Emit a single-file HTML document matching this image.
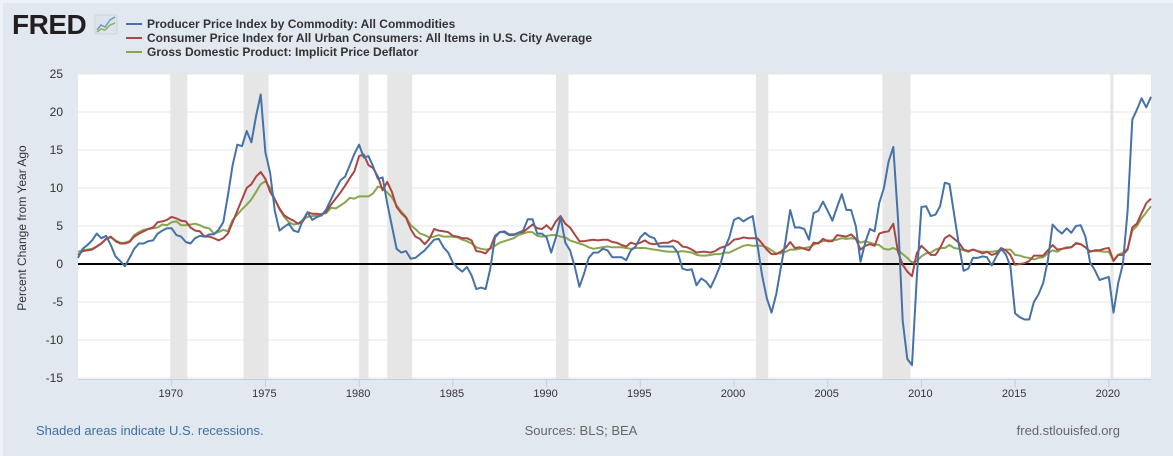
<!DOCTYPE html>
<html><head><meta charset="utf-8">
<style>
body{margin:0;width:1173px;height:456px;overflow:hidden;background:#e1e8f0;font-family:"Liberation Sans",sans-serif;}
svg{display:block}
</style></head>
<body>
<svg id="chart" width="1173" height="456" xmlns="http://www.w3.org/2000/svg">
  <rect x="0" y="0" width="1173" height="456" fill="#e1e8f0"/>
  <rect x="0" y="0" width="1173" height="3" fill="#edf2f7"/>
  <rect x="0" y="0" width="3" height="456" fill="#edf2f7"/>
  <g>
    <text x="12" y="34" font-size="28" font-weight="bold" fill="#231f20" font-family="Liberation Sans, sans-serif" letter-spacing="-0.5">FRED</text>
    <rect x="95" y="15" width="22" height="19" fill="#dde3ea" stroke="#cfd6de"/>
    <polyline points="97,30 101,25 105,27 110,20 115,17" fill="none" stroke="#6f9bc4" stroke-width="1.5"/>
    <polyline points="97,32 101,29 105,30 110,25 115,23" fill="none" stroke="#8fb35a" stroke-width="1.5"/>
  </g>
  <g font-size="12" font-weight="bold" fill="#333">
    <g><line x1="126" y1="24" x2="142" y2="24" stroke="#4572a7" stroke-width="2"/><text x="147" y="28">Producer Price Index by Commodity: All Commodities</text></g>
    <g><line x1="126" y1="38" x2="142" y2="38" stroke="#aa4643" stroke-width="2"/><text x="147" y="42">Consumer Price Index for All Urban Consumers: All Items in U.S. City Average</text></g>
    <g><line x1="126" y1="52" x2="142" y2="52" stroke="#89a54e" stroke-width="2"/><text x="147" y="56">Gross Domestic Product: Implicit Price Deflator</text></g>
  </g>
  <rect x="78" y="74" width="1073" height="305" fill="#ffffff"/>
  <g id="recessions"></g>
  <g id="grid"></g>
  <g id="yaxis"></g>
  <g id="xaxis"></g>
  <g id="series"></g>
  <text x="26" y="228" transform="rotate(-90 26 228)" text-anchor="middle" font-size="12" fill="#333">Percent Change from Year Ago</text>
  <text x="36" y="435" font-size="13" fill="#3d6fa8">Shaded areas indicate U.S. recessions.</text>
  <text x="581" y="435" font-size="13" fill="#666" text-anchor="middle">Sources: BLS; BEA</text>
  <text x="1120" y="435" font-size="13" fill="#666" text-anchor="end">fred.stlouisfed.org</text>
</svg>
<script>
const startYear = 1965;
const ppi = [
0.8,2.0,2.5,3.1, 4.0,3.4,3.7,2.5, 1.0,0.4,-0.3,0.8, 2.0,2.7,2.7,3.0, 3.1,4.0,4.4,4.7,
4.7,3.8,3.6,2.9, 2.7,3.4,3.7,3.6, 3.9,3.9,4.5,5.5, 9.0,13.0,15.7,15.5, 17.5,16.0,19.5,22.3,
14.7,12.0,7.0,4.4, 4.9,5.3,4.4,4.2, 5.8,6.8,5.8,6.2, 6.4,7.2,8.5,9.8, 11.0,11.5,13.0,14.5,
15.7,14.0,14.2,12.8, 11.2,11.4,8.0,5.0, 2.0,1.5,1.7,0.7, 0.8,1.3,1.8,2.5, 3.2,3.3,2.2,1.5,
0.2,-0.5,-1.0,-0.4, -1.5,-3.3,-3.1,-3.3, -0.6,3.5,4.2,4.2, 3.8,3.8,4.1,4.4, 5.9,5.9,4.0,4.0,
3.5,1.5,3.5,6.2, 2.8,1.8,-0.3,-3.0, -1.3,0.8,1.5,1.5, 2.0,1.8,0.9,0.9, 0.9,0.5,1.8,2.3,
3.5,4.1,3.6,3.4, 2.3,2.3,2.3,2.3, 1.5,-0.6,-0.8,-0.7, -2.8,-1.9,-2.3,-3.1, -1.8,-0.3,2.0,3.5,
5.8,6.1,5.6,6.0, 6.3,2.5,-1.5,-4.5, -6.4,-4.0,-0.5,3.0, 7.1,4.8,4.8,4.6, 3.2,6.7,7.0,8.2,
7.0,5.7,7.5,9.2, 7.1,7.1,5.0,0.3, 2.8,4.6,4.3,8.0, 10.0,13.5,15.4,6.0, -7.5,-12.5,-13.3,-2.0,
7.5,7.6,6.3,6.5, 7.6,10.7,10.5,6.5, 2.5,-0.9,-0.6,0.8, 0.8,1.0,0.9,-0.2, 1.0,2.0,1.3,-0.3,
-6.5,-7.0,-7.3,-7.3, -5.0,-4.0,-2.5,0.5, 5.2,4.5,4.0,4.7, 4.1,5.0,5.1,3.6, 0.2,-0.8,-2.1,-1.9,
-1.7,-6.4,-2.5,0.0, 7.0,19.0,20.3,21.8, 20.6,22.0];
const cpi = [
1.2,1.7,1.8,1.9, 2.3,2.7,3.3,3.6, 3.0,2.7,2.7,2.9, 3.6,4.0,4.3,4.6, 4.8,5.5,5.6,5.8,
6.2,6.0,5.7,5.6, 4.8,4.4,4.3,3.6, 3.6,3.4,3.1,3.4, 4.0,5.5,7.0,8.5, 10.0,10.5,11.5,12.1,
11.2,9.5,8.5,7.3, 6.4,6.0,5.7,5.3, 5.6,6.8,6.6,6.6, 6.5,6.9,7.8,8.6, 9.4,10.3,11.3,12.2,
14.2,14.4,13.0,12.6, 11.5,9.7,10.8,9.5, 7.5,6.7,6.1,4.6, 3.6,3.3,2.6,3.3, 4.6,4.4,4.3,4.2,
3.7,3.6,3.4,3.4, 3.1,1.7,1.6,1.4, 2.1,3.7,4.2,4.3, 3.9,3.9,4.1,4.2, 4.7,5.2,4.7,4.6,
5.1,4.5,5.6,6.3, 5.3,4.8,3.9,3.0, 3.0,3.1,3.2,3.1, 3.2,3.2,2.9,2.8, 2.5,2.3,2.8,2.6,
2.8,3.1,2.7,2.6, 2.7,2.8,2.8,3.1, 2.9,2.3,2.2,1.9, 1.5,1.6,1.6,1.5, 1.7,2.1,2.3,2.6,
3.2,3.3,3.5,3.4, 3.4,3.4,2.7,1.9, 1.3,1.3,1.6,2.1, 2.9,2.1,2.2,2.0, 1.8,2.8,2.7,3.3,
3.0,3.0,3.8,3.7, 3.6,3.9,3.3,1.9, 2.4,2.6,2.4,4.0, 4.2,4.3,5.3,1.6, -0.1,-1.0,-1.6,1.4,
2.4,1.8,1.2,1.2, 2.1,3.4,3.8,3.3, 2.8,1.9,1.7,1.9, 1.7,1.4,1.6,1.2, 1.4,2.1,1.8,1.2,
-0.1,0.0,0.1,0.4, 1.1,1.1,1.1,1.8, 2.5,1.9,2.0,2.1, 2.2,2.7,2.6,2.2, 1.6,1.8,1.8,2.0,
2.1,0.4,1.2,1.2, 1.9,4.8,5.3,6.7, 8.0,8.6];
const gdpDeflator = [
1.6,1.8,1.9,2.0, 2.3,2.7,3.3,3.5, 3.1,2.8,2.8,3.0, 3.8,4.2,4.5,4.6, 4.7,4.8,5.2,5.1,
5.5,5.6,5.1,5.1, 5.2,5.3,5.1,4.8, 4.7,4.0,4.2,4.5, 4.3,5.8,6.5,7.2, 7.8,8.5,9.5,10.5,
10.9,10.0,8.5,7.2, 6.2,5.5,5.2,5.3, 5.8,6.2,6.3,6.4, 6.6,6.7,7.4,7.3, 7.7,8.1,8.7,8.6,
8.9,8.9,8.9,9.3, 10.2,10.0,9.4,8.8, 7.7,6.9,6.2,5.1, 4.6,4.0,3.8,3.5, 3.6,3.8,3.6,3.6,
3.6,3.5,3.2,3.0, 2.7,2.2,2.0,1.9, 2.0,2.4,2.8,3.0, 3.2,3.4,3.8,4.0, 4.2,4.2,3.7,3.6,
3.7,3.8,3.8,3.6, 3.5,3.1,2.9,2.7, 2.5,2.2,2.0,2.1, 2.2,2.3,2.2,2.2, 2.2,2.1,2.0,2.1,
2.1,2.1,2.0,1.9, 1.8,1.7,1.6,1.6, 1.6,1.7,1.6,1.5, 1.2,1.1,1.1,1.2, 1.3,1.3,1.5,1.5,
1.8,2.1,2.4,2.5, 2.4,2.4,2.4,2.2, 1.8,1.4,1.4,1.6, 1.9,1.9,2.0,2.1, 2.2,2.5,2.8,3.0,
3.1,3.1,3.2,3.4, 3.3,3.4,3.3,2.8, 3.0,2.8,2.6,2.5, 2.0,1.9,2.1,1.8, 1.3,0.8,0.2,0.4,
1.0,1.4,1.5,1.9, 2.1,2.1,2.5,2.1, 2.0,1.8,1.6,1.9, 1.7,1.6,1.6,1.6, 1.7,1.8,1.9,1.9,
1.2,1.1,0.9,0.8, 0.6,0.8,0.9,1.4, 1.8,1.6,2.0,2.2, 2.2,2.8,2.6,2.2, 1.7,1.7,1.7,1.6,
1.6,0.5,1.2,1.5, 2.0,4.4,5.0,6.0, 6.8,7.6];
const recessionStarts = [1969.92,1973.83,1980.0,1981.5,1990.5,2001.17,2007.92,2020.08];
const recessionEnds   = [1970.83,1975.17,1980.5,1982.83,1991.17,2001.83,2009.42,2020.25];
const yTicks = [-15,-10,-5,0,5,10,15,20,25];
const xTickYears = [1970,1975,1980,1985,1990,1995,2000,2005,2010,2015,2020];

const NS = "http://www.w3.org/2000/svg";
const L=78, R=1151, T=74, B=379;
const x0=1965.0, x1=2022.25, yMin=-15, yMax=25;
const X = t => L + (t - x0) / (x1 - x0) * (R - L);
const Y = v => B - (v - yMin) / (yMax - yMin) * (B - T - 1) - 1;
function mk(tag, attrs, parent){const e=document.createElementNS(NS,tag);for(const k in attrs)e.setAttribute(k,attrs[k]);parent.appendChild(e);return e;}

const rg=document.getElementById('recessions');
recessionStarts.forEach((s,i)=>{
  const r=mk('rect',{x:X(s),y:T,width:X(recessionEnds[i])-X(s),height:B-T,fill:'#e6e6e6'},rg);
  
  
});
const gg=document.getElementById('grid'), ya=document.getElementById('yaxis');
yTicks.forEach(v=>{
  if(v!==0){const l=mk('line',{x1:L,x2:R,y1:Y(v),y2:Y(v),stroke:'#e6e6e6','stroke-width':1},gg);
  
  }
  const t=mk('text',{x:63,y:Y(v)+4,'text-anchor':'end','font-size':12,fill:'#333'},ya);
  t.textContent=v;
  
  
});
const xa=document.getElementById('xaxis');
mk('line',{x1:L,x2:R,y1:B+0.5,y2:B+0.5,stroke:'#c0d0e0','stroke-width':1},xa);
xTickYears.forEach(yr=>{
  mk('line',{x1:X(yr),x2:X(yr),y1:B,y2:B+8,stroke:'#c0d0e0','stroke-width':1},xa);
  const t=mk('text',{x:X(yr)-1,y:B+18,'text-anchor':'middle','font-size':11,fill:'#333'},xa);
  t.textContent=yr;
  
  
});
const sg=document.getElementById('series');
const zl=mk('line',{x1:L,x2:R,y1:Y(0),y2:Y(0),stroke:'#000','stroke-width':2},sg);


function drawLine(arr,color,name){
  const pts=arr.map((v,i)=>X(startYear+i*0.25).toFixed(1)+','+Y(v).toFixed(1)).join(' ');
  const p=mk('polyline',{points:pts,fill:'none',stroke:color,'stroke-width':2,'stroke-linejoin':'round'},sg);
  
  
}
drawLine(gdpDeflator,'#89a54e','gdp-deflator-line');
drawLine(cpi,'#aa4643','cpi-line');
drawLine(ppi,'#4572a7','ppi-line');
</script>
</body></html>
